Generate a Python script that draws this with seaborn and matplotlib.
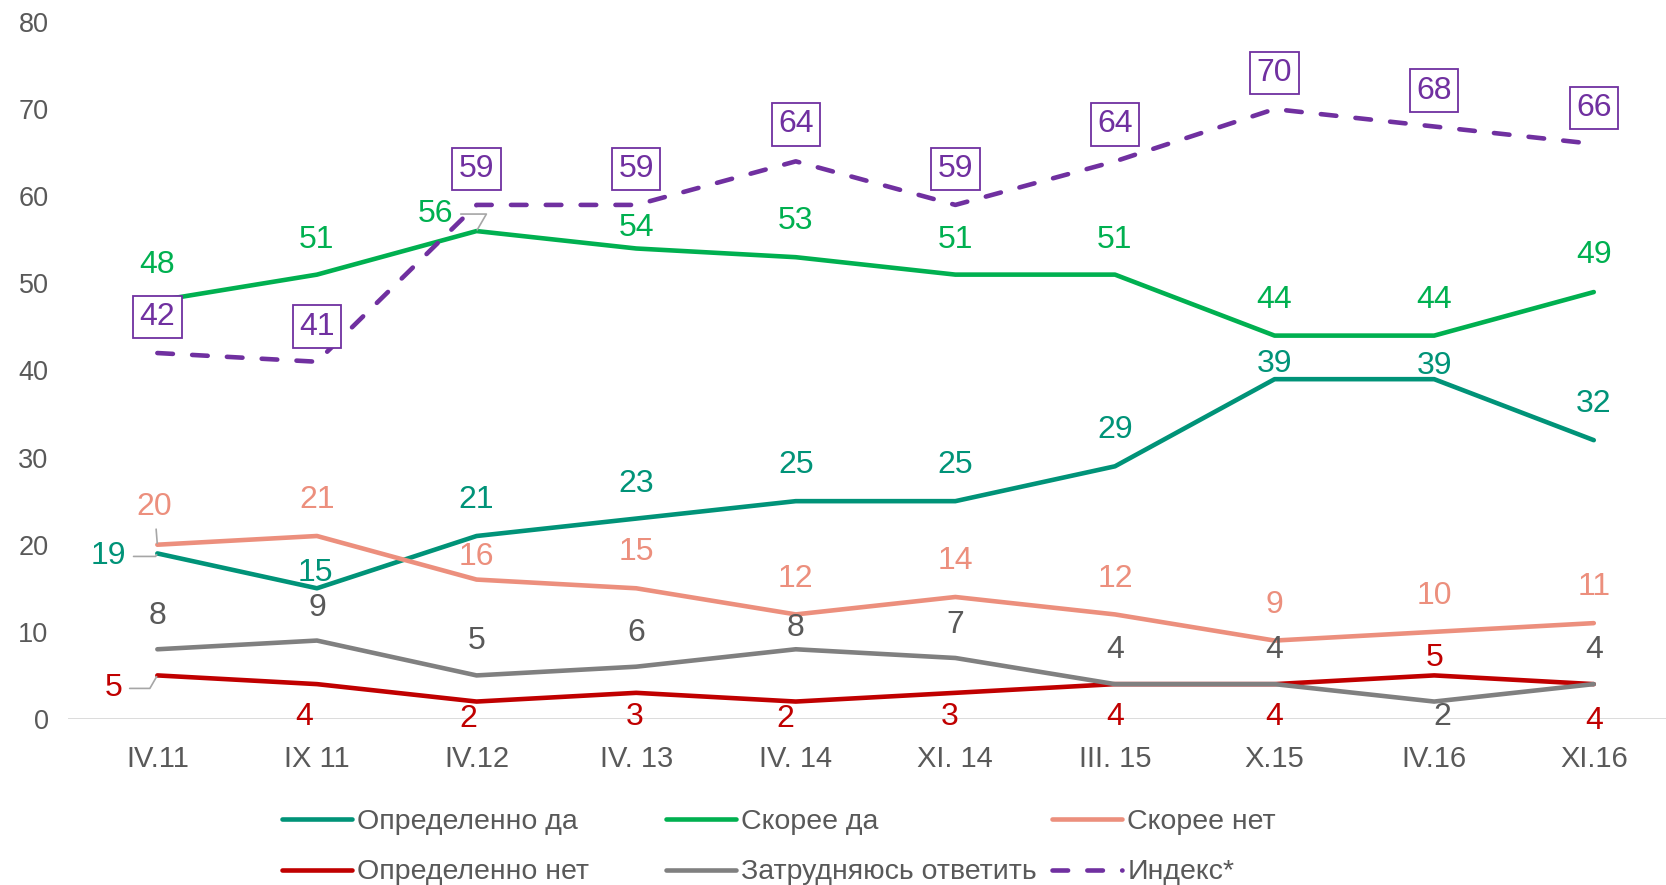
import matplotlib
matplotlib.use("Agg")
import matplotlib.pyplot as plt
import seaborn as sns
import numpy as np

# ---- data ----
periods = ["IV.11", "IX 11", "IV.12", "IV. 13", "IV. 14", "XI. 14", "III. 15", "X.15", "IV.16", "XI.16"]
opred_da = [19, 15, 21, 23, 25, 25, 29, 39, 39, 32]
skoree_da = [48, 51, 56, 54, 53, 51, 51, 44, 44, 49]
skoree_net = [20, 21, 16, 15, 12, 14, 12, 9, 10, 11]
opred_net = [5, 4, 2, 3, 2, 3, 4, 4, 5, 4]
zatrud = [8, 9, 5, 6, 8, 7, 4, 4, 2, 4]
index = [42, 41, 59, 59, 64, 59, 64, 70, 68, 66]

names = ["Определенно да", "Скорее да", "Скорее нет", "Определенно нет", "Затрудняюсь ответить", "Индекс*"]
colors = ["#009378", "#00B050", "#EC8F7D", "#C00000", "#808080", "#7030A0"]
label_colors = ["#009378", "#00B050", "#EC8F7D", "#C00000", "#595959", "#7030A0"]
series = [opred_da, skoree_da, skoree_net, opred_net, zatrud, index]

# label offsets in pixels (dx, dy) relative to each point
offsets = [
    [(-49, -3), (-2, 15), (0, 36), (0, 35), (0, 36), (0, 36), (0, 36), (0, 15), (0, 13), (0, 36)],
    [(0, 36), (0, 35), (-41, 17), (0, 20), (0, 36), (0, 35), (0, 35), (0, 36), (0, 36), (0, 37)],
    [(-3, 38), (0, 36), (0, 23), (0, 36), (0, 35), (0, 36), (0, 35), (0, 36), (0, 36), (0, 36)],
    [(-44, -13), (-13, -33), (-8, -17), (-2, -24), (-10, -17), (-6, -24), (0, -33), (0, -33), (0, 17), (0, -37)],
    [(0, 33), (0, 33), (0, 34), (0, 34), (0, 21), (0, 33), (0, 34), (0, 34), (8, -15), (0, 34)],
    [(0, 36), (0, 35), (0, 36), (0, 36), (0, 37), (0, 36), (0, 37), (0, 36), (0, 36), (0, 36)],
]
leaders = {(0, 0), (1, 2), (2, 0), (3, 0)}

sns.set_theme(style="white")
plt.rcParams["font.family"] = ["Liberation Sans", "DejaVu Sans"]

fig = plt.figure(figsize=(16.66, 8.85), dpi=100)
ax = fig.add_axes([0.0408, 0.1876, 0.9695, 0.7876])

x = np.arange(len(periods))
lines = []
for i, (vals, col, nm) in enumerate(zip(series, colors, names)):
    sns.lineplot(x=x, y=vals, ax=ax, color=col, linewidth=3.3, legend=False,
                 solid_capstyle="round", zorder=3)
    ln = ax.get_lines()[-1]
    if i == 5:
        ln.set_dashes([3.4, 4.2])
        ln.set_dash_capstyle("round")
    lines.append(ln)

for i, vals in enumerate(series):
    for j, v in enumerate(vals):
        dx, dy = offsets[i][j]
        kw = dict(textcoords="offset pixels", ha="center", va="center",
                  fontsize=23, color=label_colors[i], zorder=5)
        if i == 5:
            kw["bbox"] = dict(boxstyle="square,pad=0.2", fc="white", ec="#7030A0", lw=1.3)
        if (i, j) in leaders:
            kw["arrowprops"] = dict(arrowstyle="-", color="#A6A6A6", lw=1.2,
                                    shrinkA=3, shrinkB=1,
                                    connectionstyle="angle,angleA=0,angleB=60" if dx < -20 else "arc3")
        ax.annotate(str(v), xy=(j, v), xytext=(dx, dy), **kw)

ax.set_xlim(-0.56, 9.56)
ax.set_ylim(0, 80)
ax.set_yticks(range(0, 81, 10))
ax.set_xticks(x)
ax.set_xticklabels(periods)
ax.tick_params(axis="x", labelsize=21, colors="#595959", length=0, pad=19)
ax.tick_params(axis="y", labelsize=19.5, colors="#595959", length=0, pad=14)
for s in ax.spines.values():
    s.set_visible(False)
ax.axhline(0, color="#D9D9D9", lw=1.3, zorder=1)
ax.grid(False)

legfont = {"family": ["Liberation Sans"], "size": 20.5}
col_x = [282 / 1666, 666 / 1666, 1052 / 1666]
for c in range(3):
    hs = [lines[c], lines[c + 3]]
    ls = [names[c], names[c + 3]]
    leg = fig.legend(hs, ls, loc="upper left", bbox_to_anchor=(col_x[c], 1 - 809 / 885),
                     frameon=False, prop=legfont, handlelength=2.45, handletextpad=0.2,
                     labelspacing=0.86, borderpad=0, borderaxespad=0)
    for t in leg.get_texts():
        t.set_color("#595959")

fig.savefig("out.png", dpi=100)
